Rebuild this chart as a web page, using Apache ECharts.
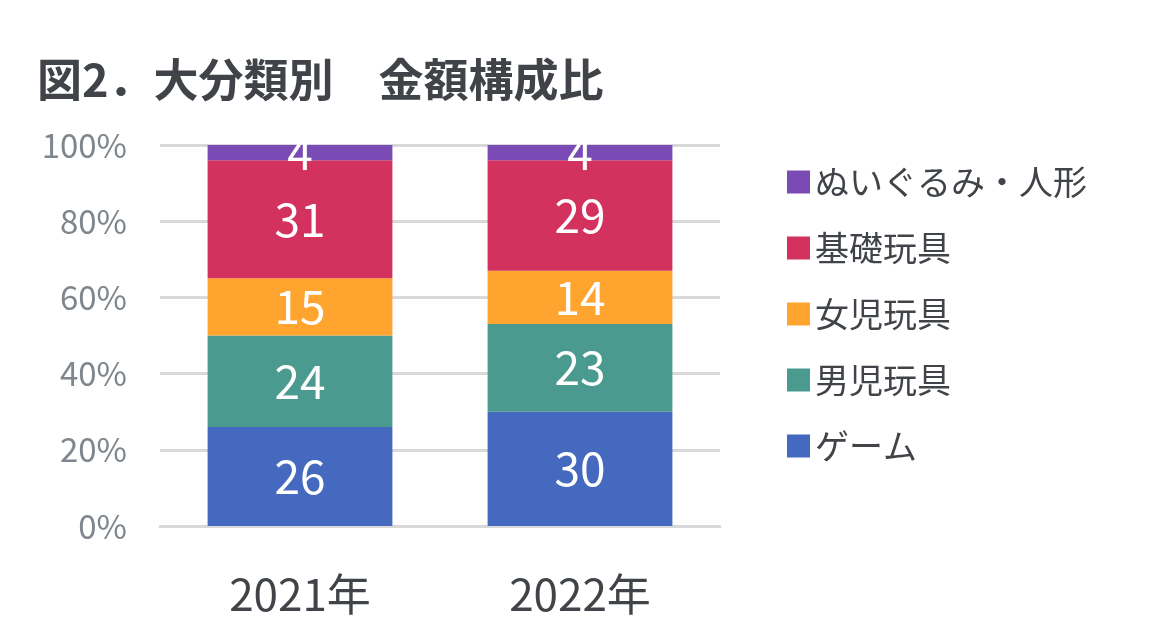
<!DOCTYPE html>
<html>
<head>
<meta charset="utf-8">
<script src="https://cdn.jsdelivr.net/npm/echarts@6/dist/echarts.min.js"></script>
<style>
  html, body { margin: 0; padding: 0; background: #fff; }
  #chart { width: 1169px; height: 631px; }
</style>
</head>
<body>
<div id="chart"></div>
<script>
// 年
const years = ['2021年', '2022年'];

// 大分類ごとの構成比（%）
const seriesNames = ['ゲーム', '男児玩具', '女児玩具', '基礎玩具', 'ぬいぐるみ・人形'];
const gameValues = [26, 30];
const boysValues = [24, 23];
const girlsValues = [15, 14];
const basicValues = [31, 29];
const plushValues = [4, 4];
const seriesColors = ['#4469BF', '#4A9A8F', '#FFA52F', '#D3325E', '#7B4BB5'];

const yTicks = [0, 20, 40, 60, 80, 100];

const font = '"Noto Sans CJK JP", "Noto Sans", sans-serif';
const chart = echarts.init(document.getElementById('chart'));

const valueSets = [gameValues, boysValues, girlsValues, basicValues, plushValues];

const option = {
    animation: false,
    textStyle: { fontFamily: font },
    title: {
        text: '図2．大分類別　金額構成比',
        left: 32,
        top: 52,
        textStyle: {
            fontFamily: font,
            fontSize: 45,
            fontWeight: 'bold',
            color: '#404448'
        }
    },
    legend: {
        orient: 'vertical',
        left: 782,
        top: 157,
        icon: 'rect',
        itemWidth: 23,
        itemHeight: 23,
        itemGap: 26,
        data: seriesNames.slice().reverse(),
        textStyle: {
            fontFamily: font,
            fontSize: 34,
            lineHeight: 40,
            color: '#404448',
            padding: [0, 0, 0, 0]
        }
    },
    grid: {
        left: 160,
        right: 449,
        top: 145,
        bottom: 105
    },
    xAxis: {
        type: 'category',
        data: years,
        axisLine: { show: true, lineStyle: { color: '#D9D9D9', width: 3 } },
        axisTick: { show: false },
        axisLabel: {
            margin: 46,
            fontSize: 44,
            color: '#404448',
            fontFamily: font
        }
    },
    yAxis: {
        type: 'value',
        min: 0,
        max: 100,
        interval: 20,
        axisLine: { show: false },
        axisTick: { show: false },
        splitLine: { lineStyle: { color: '#D9D9D9', width: 3 } },
        axisLabel: {
            margin: 33,
            fontSize: 33,
            color: '#7F868D',
            fontFamily: font,
            formatter: v => yTicks.includes(v) ? v + '%' : ''
        }
    },
    series: seriesNames.map((name, i) => ({
        name: name,
        type: 'bar',
        stack: 'total',
        barCategoryGap: '34%',
        data: valueSets[i],
        itemStyle: { color: seriesColors[i] },
        label: {
            show: true,
            position: 'inside',
            fontSize: 46,
            color: '#FFFFFF',
            fontFamily: font
        }
    }))
};

chart.setOption(option);
</script>
</body>
</html>
